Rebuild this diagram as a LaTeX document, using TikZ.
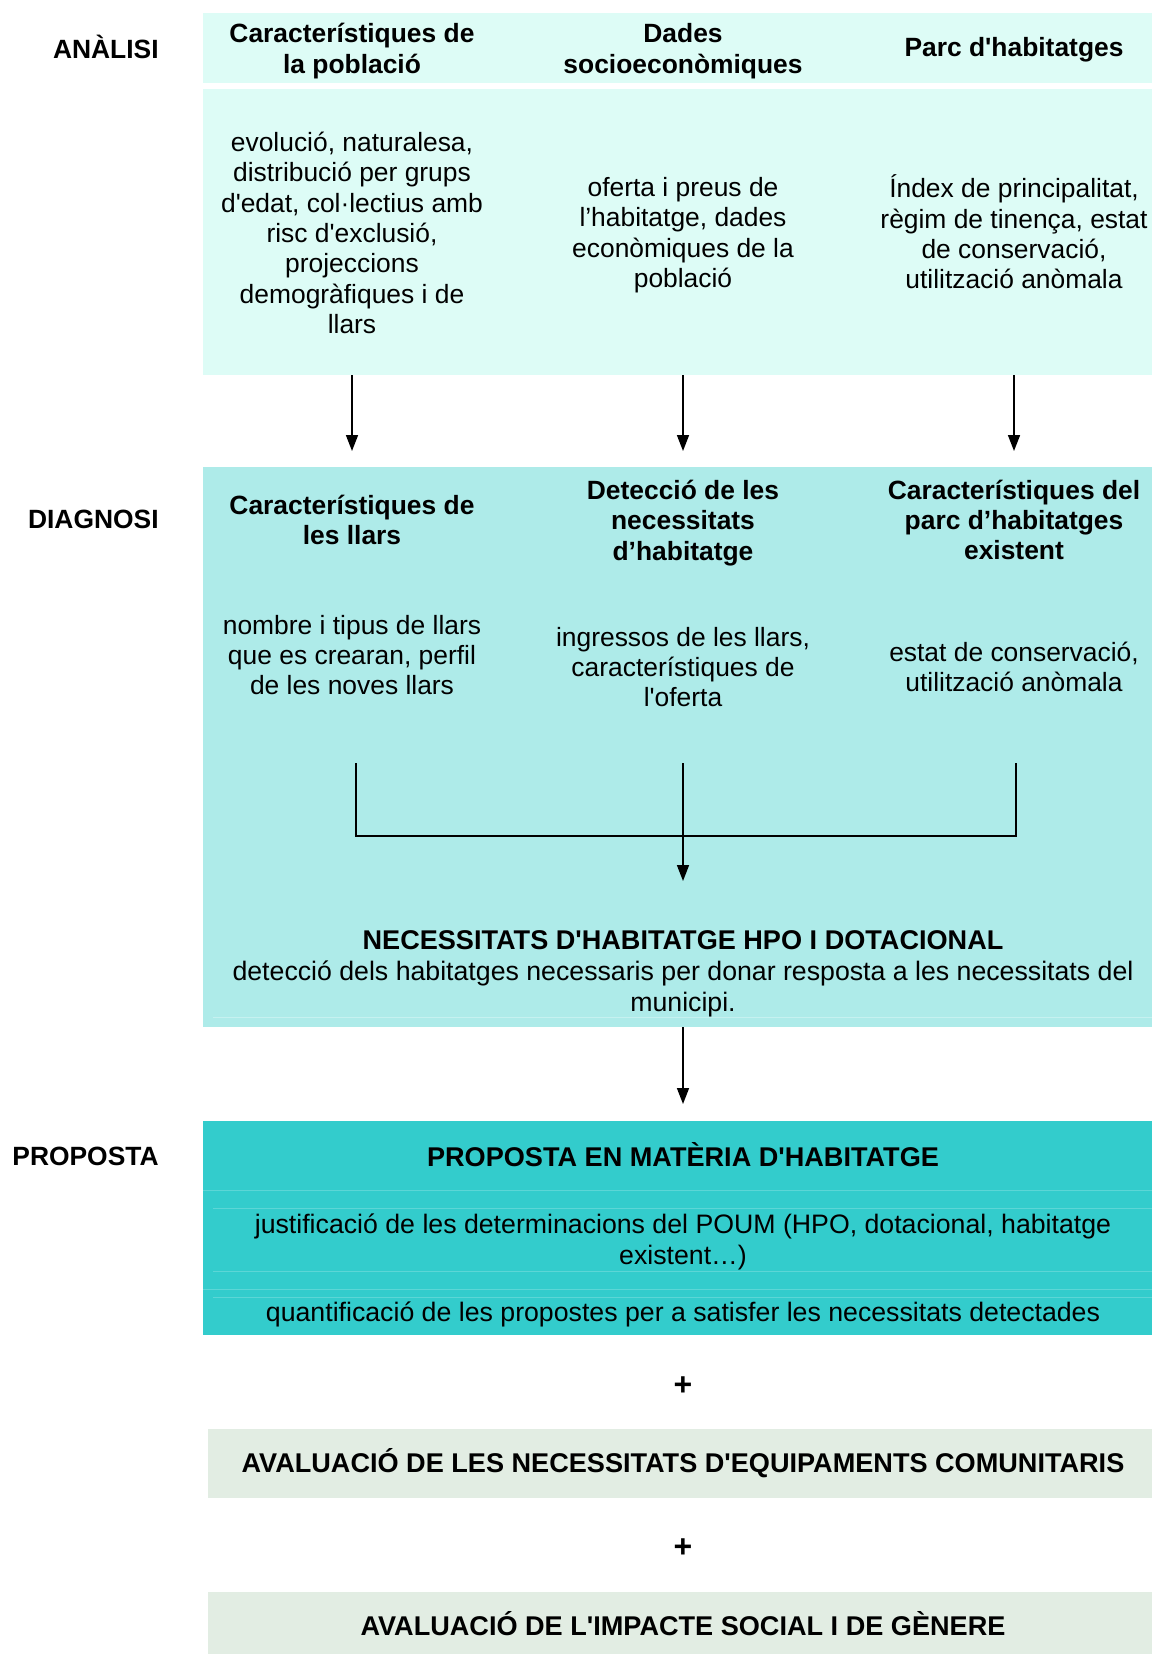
\documentclass[tikz,border=0pt]{standalone}
\usepackage{fontspec}
\setmainfont{Liberation Sans}[Ligatures=TeXOff]
\usepackage{tikz}
\usetikzlibrary{arrows.meta}
\definecolor{cAnalisi}{HTML}{DDFCF6}
\definecolor{cDiagnosi}{HTML}{AEEBE9}
\definecolor{cProposta}{HTML}{33CCCC}
\definecolor{cAvaluacio}{HTML}{E2EDE3}

\begin{document}
\begin{tikzpicture}[x=0.5pt,y=-0.5pt,
	every node/.style={font=\fontsize{13.2}{15.2}\selectfont,align=center,inner sep=0pt},
	titol/.style={font=\fontsize{13.2}{15.2}\selectfont\bfseries},
	gran/.style={font=\fontsize{13.55}{15.2}\selectfont\bfseries},
	ample/.style={font=\fontsize{13.35}{15.2}\selectfont},
	fase/.style={titol,anchor=east},
	mes/.style={font=\fontsize{16}{18}\selectfont\bfseries},
	fletxa/.style={-{Triangle[length=8pt,width=6pt]},line width=0.8pt},
	linia/.style={line width=0.8pt},
	ratlla/.style={cProposta!80!white,line width=0.5pt}]
	\useasboundingbox (0,0) rectangle (1152,1654);
	\fill[cAnalisi] (203,13) rectangle (1152,83);
	\fill[cAnalisi] (203,89) rectangle (1152,375);
	\fill[cDiagnosi] (203,467) rectangle (1152,1027);
	\fill[cProposta] (203,1121) rectangle (1152,1335);
	\fill[cAvaluacio] (208,1429) rectangle (1152,1498);
	\fill[cAvaluacio] (208,1592) rectangle (1152,1654);
	\draw[ratlla] (203,1190) -- (1152,1190) (213,1208) -- (1152,1208)
	(213,1271) -- (1152,1271) (203,1289) -- (1152,1289) (213,1297) -- (1152,1297);
	\draw[cDiagnosi!70!white,line width=0.5pt] (213,1017) -- (1152,1017);
	
	\node[fase] (analisi) at (159,47) {ANÀLISI};
	\node[fase] (diagnosi) at (159,519) {DIAGNOSI};
	\node[fase] (proposta) at (159,1156) {PROPOSTA};
	
	\node[titol] (poblacio) at (352,51) {Característiques de\\la població};
	\node[titol] (socioec) at (683,51) {Dades\\socioeconòmiques};
	\node[titol] (parc) at (1014,50) {Parc d'habitatges};
	\node (poblaciotxt) at (352,233) {evolució, naturalesa,\\distribució per grups\\d'edat, col·lectius amb\\risc d'exclusió,\\projeccions\\demogràfiques i de\\llars};
	\node (socioec-txt) at (683,235) {oferta i preus de\\l’habitatge, dades\\econòmiques de la\\població};
	\node (parctxt) at (1014,232) {Índex de principalitat,\\règim de tinença, estat\\de conservació,\\utilització anòmala};
	
	\node[titol] (llars) at (352,520) {Característiques de\\les llars};
	\node[titol] (necess) at (683,523) {Detecció de les\\necessitats\\d’habitatge};
	\node[titol] (parcex) at (1014,520) {Característiques del\\parc d’habitatges\\existent};
	\node (llarstxt) at (352,655) {nombre i tipus de llars\\que es crearan, perfil\\de les noves llars};
	\node (necesstxt) at (683,667) {ingressos de les llars,\\característiques de\\l'oferta};
	\node (parcextxt) at (1014,667) {estat de conservació,\\utilització anòmala};
	
	\node[gran] (hpo) at (683,940) {NECESSITATS D'HABITATGE HPO I DOTACIONAL};
	\node[ample] (hpotxt) at (683,989) {detecció dels habitatges necessaris per donar resposta a les necessitats del\\municipi.};
	
	\node[gran] (materia) at (683,1155) {PROPOSTA EN MATÈRIA D'HABITATGE};
	\node[ample] (justif) at (683,1242) {justificació de les determinacions del POUM (HPO, dotacional, habitatge\\existent…)};
	\node[ample] (quantif) at (683,1314) {quantificació de les propostes per a satisfer les necessitats detectades};
	\node[mes] (mes1) at (683,1386) {+};
	\node[gran] (equip) at (683,1463) {AVALUACIÓ DE LES NECESSITATS D'EQUIPAMENTS COMUNITARIS};
	\node[mes] (mes2) at (683,1548) {+};
	\node[gran] (genere) at (683,1624) {AVALUACIÓ DE L'IMPACTE SOCIAL I DE GÈNERE};
	
	\coordinate (a1) at (352,375); \coordinate (d1) at (352,451);
	\coordinate (a2) at (683,375); \coordinate (d2) at (683,451);
	\coordinate (a3) at (1014,375); \coordinate (d3) at (1014,451);
	\coordinate (b1) at (356,763); \coordinate (b2) at (683,763);
	\coordinate (b3) at (1016,763); \coordinate (junta) at (683,836);
	\coordinate (n1) at (683,881);
	\coordinate (h1) at (683,1027); \coordinate (p1) at (683,1104);
	\path[fletxa]
	(a1) edge (d1)
	(a2) edge (d2)
	(a3) edge (d3)
	(b2) edge (n1)
	(h1) edge (p1);
	\draw[linia] (b1) |- (b3 |- junta) -- (b3);
\end{tikzpicture}
\end{document}
